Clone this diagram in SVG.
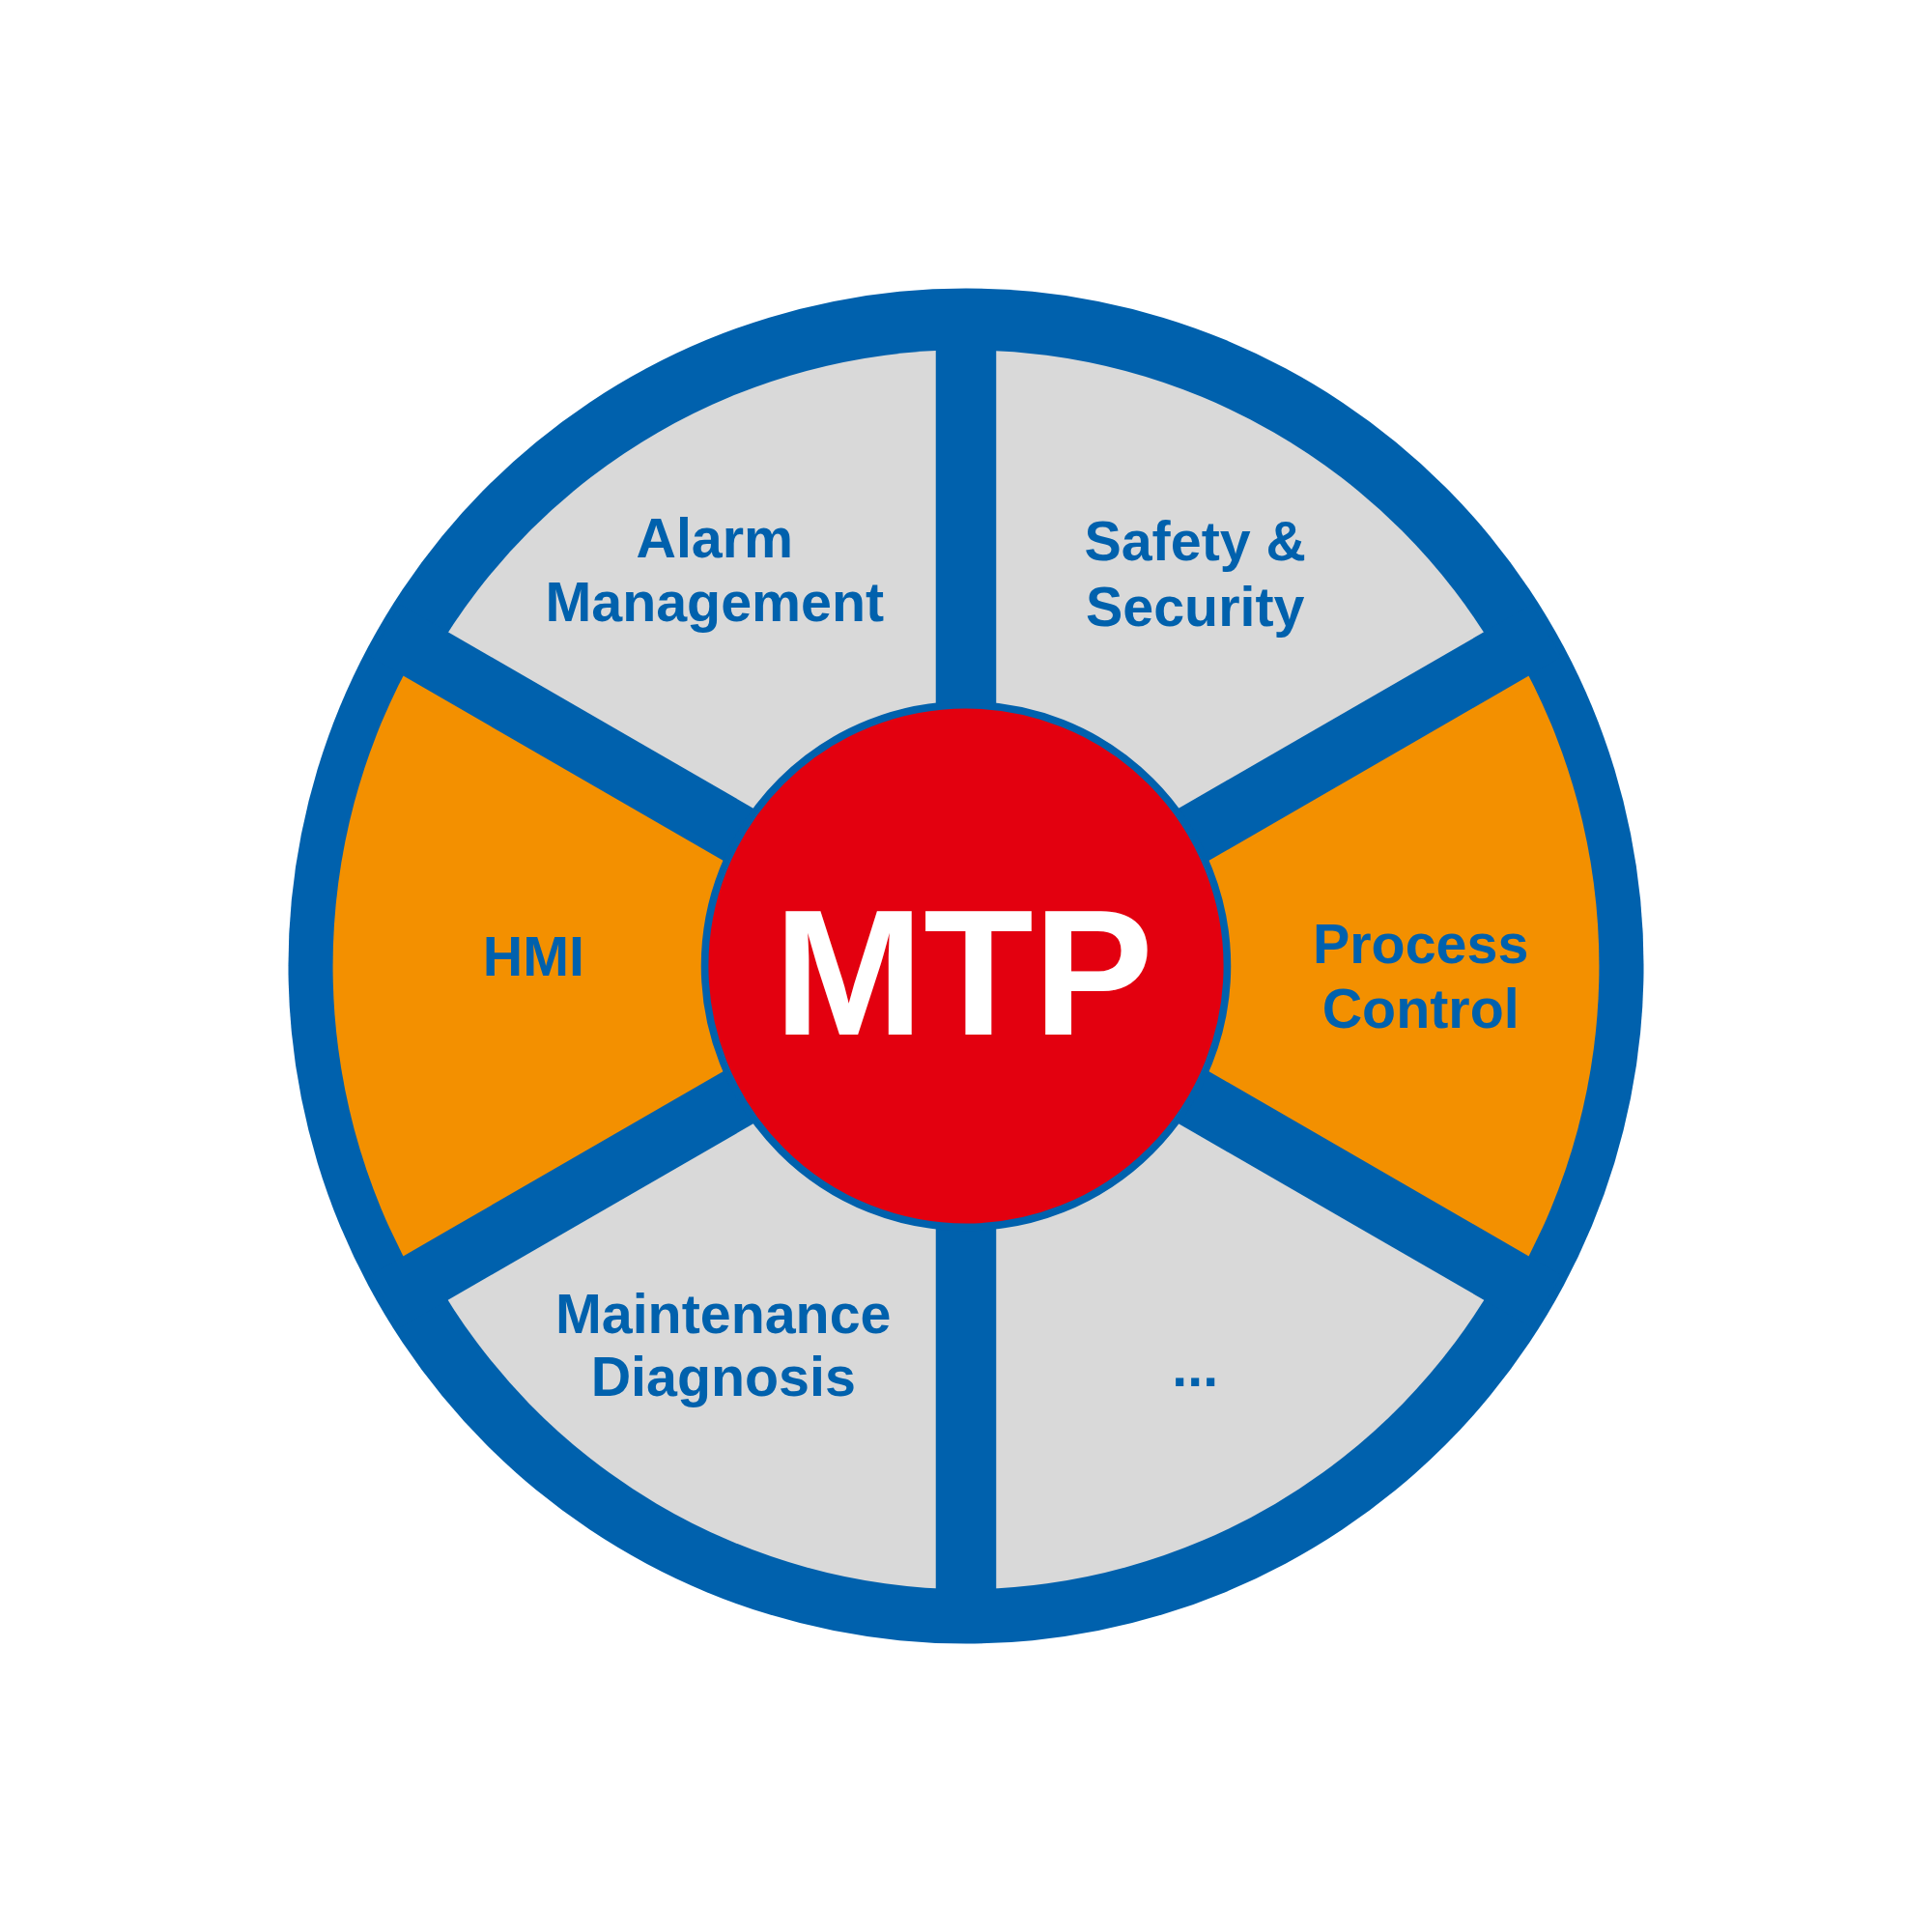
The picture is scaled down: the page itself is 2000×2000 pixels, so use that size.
<svg xmlns="http://www.w3.org/2000/svg" width="2000" height="2000" viewBox="0 0 2000 2000">
<style>
.lbl{font-family:"Liberation Sans",Arial,sans-serif;font-weight:bold;font-size:45px;fill:#0061AD;text-anchor:middle}
.gray{fill:#D9D9D9}.orange{fill:#F39000}
.spoke{stroke:#0061AD;stroke-width:49}
</style>
<rect width="2000" height="2000" fill="#fff"/>
<g transform="scale(1.27551)">
<circle cx="784" cy="784" r="550" fill="#0061AD"/>
<g id="sectors">
<path id="alarm" class="gray" d="M784 784 L784 284 A500 500 0 0 0 351 534 Z"/>
<path id="safety" class="gray" d="M784 784 L784 284 A500 500 0 0 1 1217 534 Z"/>
<path id="process" class="orange" d="M784 784 L1229 527 A514 514 0 0 1 1229 1041 Z"/>
<path id="more" class="gray" d="M784 784 L1217 1034 A500 500 0 0 1 784 1290 Z"/>
<path id="maint" class="gray" d="M784 784 L351 1034 A500 500 0 0 0 784 1290 Z"/>
<path id="hmi" class="orange" d="M784 784 L339 527 A514 514 0 0 0 339 1041 Z"/>
</g>
<g id="connectors">
<line class="spoke" x1="784" y1="784" x2="784" y2="240"/>
<line class="spoke" x1="784" y1="784" x2="784" y2="1328"/>
<line class="spoke" x1="784" y1="784" x2="1255" y2="512"/>
<line class="spoke" x1="784" y1="784" x2="313" y2="512"/>
<line class="spoke" x1="784" y1="784" x2="1255" y2="1056"/>
<line class="spoke" x1="784" y1="784" x2="313" y2="1056"/>
</g>
<g id="center">
<circle cx="784" cy="784" r="214" fill="#D9D9D9"/>
<circle cx="784" cy="784" r="212" fill="#E3000F" stroke="#0061AD" stroke-width="6"/>
<text x="782" y="840" style="font-family:'Liberation Sans',Arial,sans-serif;font-weight:bold;font-size:146px;fill:#fff;text-anchor:middle">MTP</text>
</g>
<g id="labels">
<text class="lbl" x="580" y="452">Alarm</text>
<text class="lbl" x="580" y="504">Management</text>
<text class="lbl" x="970" y="455">Safety &amp;</text>
<text class="lbl" x="970" y="508">Security</text>
<text class="lbl" x="433" y="792">HMI</text>
<text class="lbl" x="1153" y="782">Process</text>
<text class="lbl" x="1153" y="834">Control</text>
<text class="lbl" x="587" y="1082">Maintenance</text>
<text class="lbl" x="587" y="1133">Diagnosis</text>
<text class="lbl" x="970" y="1125">...</text>
</g>
</g>
</svg>
